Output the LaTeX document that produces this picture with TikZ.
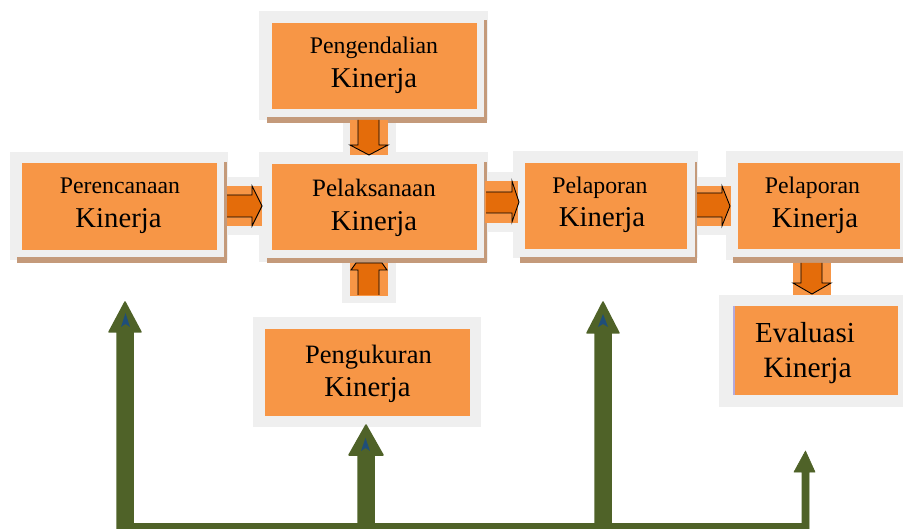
\documentclass[tikz,border=0pt]{standalone}
\usepackage{fontspec}
\setmainfont{Liberation Serif}
\definecolor{boxorange}{HTML}{F79646}
\definecolor{darkorange}{HTML}{E46C0A}
\definecolor{framegrey}{HTML}{EFEFEF}
\definecolor{shadowbrown}{HTML}{C49A7A}
\definecolor{olive}{HTML}{4F6228}
\definecolor{tipblue}{HTML}{1F4E79}
\definecolor{lavender}{HTML}{B4AADC}
\tikzset{
  frame/.style={fill=framegrey},
  shadow/.style={fill=shadowbrown},
  obox/.style={fill=boxorange, draw=none, inner sep=0pt, outer sep=0pt},
  blockarrow/.style={fill=darkorange, draw=black, line width=0.9pt, line join=miter},
  arrowbg/.style={fill=boxorange},
  feedback/.style={fill=olive, draw=olive, line width=1.5pt, line join=round},
  tipmark/.style={fill=tipblue},
  small/.style={font=\fontsize{23.8}{28}\selectfont, anchor=base, inner sep=0pt},
  big/.style={font=\fontsize{28.7}{33}\selectfont, anchor=base, inner sep=0pt}
}
\begin{document}
\begin{tikzpicture}[x=1pt,y=-1pt]
\useasboundingbox (0,0) rectangle (903,529);
% grey frames
\fill[frame] (10,152) rectangle (228,260);
\fill[frame] (259,11) rectangle (488,120);
\fill[frame] (259,152) rectangle (488,262);
\fill[frame] (253,317) rectangle (481,427);
\fill[frame] (513,151) rectangle (698,258);
\fill[frame] (726,151) rectangle (903,260);
\fill[frame] (719,295) rectangle (903,407);
% grey behind arrows
\fill[frame] (228,177) rectangle (259,235);
\fill[frame] (488,172) rectangle (513,232);
\fill[frame] (698,177) rectangle (726,235);
\fill[frame] (343,120) rectangle (396,152);
\fill[frame] (342,262) rectangle (396,303);
% shadows
\fill[shadow] (17,257) rectangle (227,263);
\fill[shadow] (224,162) rectangle (227,263);
\fill[shadow] (267,117) rectangle (487,123);
\fill[shadow] (484,20) rectangle (487,123);
\fill[shadow] (267,258) rectangle (487,263);
\fill[shadow] (484,162) rectangle (487,263);
\fill[shadow] (520,257) rectangle (697,263);
\fill[shadow] (695,162) rectangle (697,263);
\fill[shadow] (733,257) rectangle (903,263);
% orange boxes
\node[obox, minimum width=195pt, minimum height=87pt] (plan) at (119.5,207) {};
\node[obox, minimum width=205pt, minimum height=86pt] (ctrl) at (374.5,66) {};
\node[obox, minimum width=205pt, minimum height=86pt] (exec) at (374.5,207) {};
\node[obox, minimum width=205pt, minimum height=87pt] (meas) at (367.5,372.5) {};
\node[obox, minimum width=162pt, minimum height=86pt] (rep1) at (606,206) {};
\node[obox, minimum width=162pt, minimum height=86pt] (rep2) at (819,206) {};
\node[obox, minimum width=165pt, minimum height=89pt] (eval) at (815.5,350.5) {};
\fill[lavender] (733,306) rectangle (735,395);
% texts
\node[small] (t1a) at (120,194) {Perencanaan};
\node[big] (t1b) at (118.5,228) {Kinerja};
\node[small] (t2a) at (374,54) {Pengendalian};
\node[big] (t2b) at (374,88) {Kinerja};
\node[small, font=\fontsize{25}{30}\selectfont] (t3a) at (374,197) {Pelaksanaan};
\node[big] (t3b) at (374,231) {Kinerja};
\node[small, font=\fontsize{26.5}{30}\selectfont] (t4a) at (368.5,364) {Pengukuran};
\node[big] (t4b) at (367.5,397) {Kinerja};
\node[small] (t5a) at (600,194) {Pelaporan};
\node[big] (t5b) at (602,227) {Kinerja};
\node[small] (t6a) at (812.5,194) {Pelaporan};
\node[big] (t6b) at (815,228) {Kinerja};
\node[big, font=\fontsize{29}{33}\selectfont] (t7a) at (805,343) {Evaluasi};
\node[big, font=\fontsize{29.5}{33}\selectfont] (t7b) at (807.5,378) {Kinerja};
% arrow backgrounds
\fill[arrowbg] (227,186) rectangle (262,226);
\fill[arrowbg] (485,181) rectangle (518,223);
\fill[arrowbg] (697,186) rectangle (731,226);
\fill[arrowbg] (350,120) rectangle (388,155);
\fill[arrowbg] (350,263) rectangle (388,296);
\fill[arrowbg] (793,263) rectangle (831,295);
% block arrows
\fill[darkorange] (227,195) -- (252,195) -- (252,186) -- (262,206) -- (252,226) -- (252,217) -- (227,217) -- cycle;
\draw[blockarrow, fill=none] (227,195) -- (252,195) -- (252,186) -- (262,206) -- (252,226) -- (252,217) -- (227,217);
\fill[darkorange] (486,192) -- (512,192) -- (512,181) -- (519,202) -- (512,222) -- (512,213) -- (486,213) -- cycle;
\draw[blockarrow, fill=none] (486,192) -- (512,192) -- (512,181) -- (519,202) -- (512,222) -- (512,213) -- (486,213);
\fill[darkorange] (697,193) -- (722,193) -- (722,186) -- (730,206) -- (722,226) -- (722,217) -- (697,217) -- cycle;
\draw[blockarrow, fill=none] (697,193) -- (722,193) -- (722,186) -- (730,206) -- (722,226) -- (722,217) -- (697,217);
\fill[darkorange] (358,120) -- (358,145) -- (350,145) -- (369,155) -- (388,145) -- (379,145) -- (379,120) -- cycle;
\draw[blockarrow, fill=none] (358,120) -- (358,145) -- (350,145) -- (369,155) -- (388,145) -- (379,145) -- (379,120);
\fill[darkorange] (358,295) -- (358,270) -- (351,270) -- (356,263) -- (382,263) -- (387,270) -- (379,270) -- (379,295) -- cycle;
\draw[blockarrow, fill=none] (358,295) -- (358,270) -- (351,270) -- (356,263) -- (382,263) -- (387,270) -- (379,270) -- (379,295);
\fill[darkorange] (801,263) -- (801,283) -- (793,283) -- (812,294) -- (831,283) -- (822,283) -- (822,263) -- cycle;
\draw[blockarrow, fill=none] (801,263) -- (801,283) -- (793,283) -- (812,294) -- (831,283) -- (822,283) -- (822,263);
% feedback lines
\coordinate (bl) at (117,523);
\coordinate (br) at (809,529);
\fill[olive] (bl) rectangle (br);
\path[feedback] (117,529) -- (117,332) -- (109,332) -- (125,302) -- (141,332) -- (133,332) -- (133,529) -- cycle;
\path[feedback] (358,529) -- (358,455) -- (349,455) -- (366,425) -- (383,455) -- (374,455) -- (374,529) -- cycle;
\path[feedback] (595,529) -- (595,333) -- (587,333) -- (603,302) -- (619,333) -- (611,333) -- (611,529) -- cycle;
\path[feedback, line width=0.6pt] (802,529) -- (802,472) -- (794,472) -- (805.5,451) -- (815,472) -- (809,472) -- (809,529) -- cycle;
\fill[tipmark] (121,327) -- (125.5,313) -- (130,327) -- (125.5,324) -- cycle;
\fill[tipmark] (361,451) -- (365.5,438) -- (370,451) -- (365.5,448) -- cycle;
\fill[tipmark] (598,327) -- (603,314) -- (608,327) -- (603,324) -- cycle;
\end{tikzpicture}
\end{document}
